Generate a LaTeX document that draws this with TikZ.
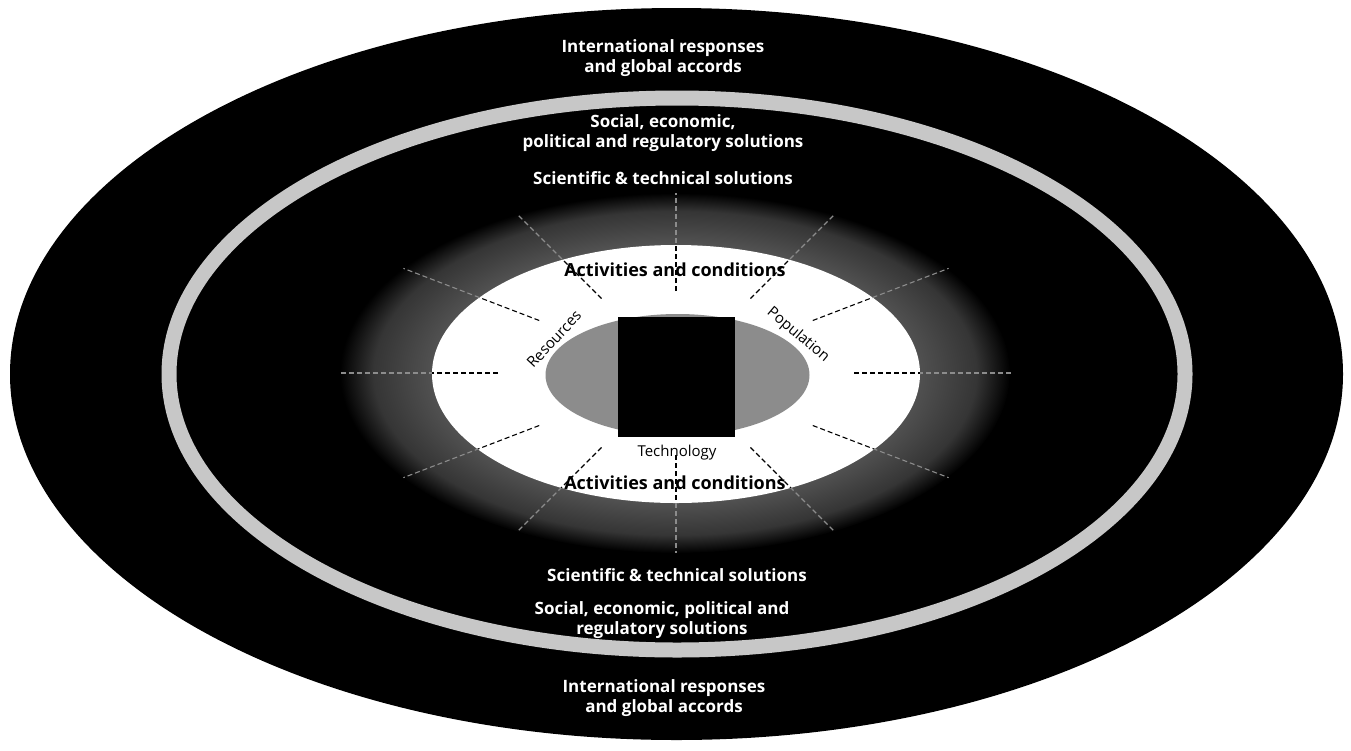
\documentclass[tikz,border=0pt]{standalone}
\usepackage{fontspec}
\setmainfont{Open Sans}
\usepackage{tikz}

\definecolor{ringgray}{gray}{0.78}
\definecolor{hazegray}{gray}{0.32}
\definecolor{coregray}{gray}{0.55}
\pgfdeclareradialshading{haze}{\pgfpointorigin}{color(0bp)=(hazegray); color(18bp)=(hazegray); color(22.5bp)=(hazegray!65!black); color(25bp)=(black); color(50bp)=(black)}

\tikzset{
  ring label/.style={text=white, font=\bfseries\fontsize{17}{20}\selectfont, align=center},
  act label/.style={text=black, font=\bfseries\fontsize{18}{20}\selectfont},
  zone label/.style={text=black, font=\fontsize{15}{17}\selectfont},
  spoke/.style={line width=1.1pt, dash pattern=on 5pt off 3pt},
}

\begin{document}
\begin{tikzpicture}[x=1pt,y=-1pt]
\useasboundingbox (0,0) rectangle (1351,750);
% outer band and grey ring
\fill[black] (676.5,374) ellipse [x radius=666.5, y radius=366];
\draw[ringgray, line width=15pt] (677,374) ellipse [x radius=508, y radius=276];
% haze round the activities
\shade[shading=haze] (675,373) ellipse [x radius=335, y radius=180];
\begin{scope}[shift={(676,373)}]
\foreach \a/\r/\R in {0/178/335, 21/146.5/292, 45/105.3/224.3, 90/82/180, 135/105.3/224.3, 159/146.5/292,
  180/178/335, 201/146.5/292, 225/105.3/224.3, 270/82/180, 315/105.3/224.3, 339/146.5/292}
  \draw[spoke, white!55!black] (\a:\r) -- (\a:\R);
\end{scope}
% activities zone
\fill[white] (676,374) ellipse [x radius=244, y radius=129];
\begin{scope}
\clip (676,374) ellipse [x radius=244, y radius=129];
\begin{scope}[shift={(676,373)}]
\foreach \a/\r/\R in {0/178/335, 21/146.5/292, 45/105.3/224.3, 90/82/180, 135/105.3/224.3, 159/146.5/292,
  180/178/335, 201/146.5/292, 225/105.3/224.3, 270/82/180, 315/105.3/224.3, 339/146.5/292}
  \draw[spoke, black] (\a:\r) -- (\a:\R);
\end{scope}
\end{scope}
% core
\fill[coregray] (677.5,375) ellipse [x radius=132, y radius=61];
\fill[black] (618,317) rectangle (735,437);

\node[ring label] (intltop) at (663,58) {International responses\\and global accords};
\node[ring label] (socialtop) at (663,133) {Social, economic,\\political and regulatory solutions};
\node[ring label] (scitop) at (663,178) {Scientific \& technical solutions};
\node[act label] (acttop) at (675,270) {Activities and conditions};
\node[zone label, rotate=47] (resources) at (554,339) {Resources};
\node[zone label, rotate=-40] (population) at (798,335) {Population};
\node[zone label] (technology) at (677,453) {Technology};
\node[act label] (actbot) at (675,483) {Activities and conditions};
\node[ring label] (scibot) at (677,575) {Scientific \& technical solutions};
\node[ring label] (socialbot) at (662,620) {Social, economic, political and\\regulatory solutions};
\node[ring label] (intlbot) at (664,698) {International responses\\and global accords};
\end{tikzpicture}
\end{document}
